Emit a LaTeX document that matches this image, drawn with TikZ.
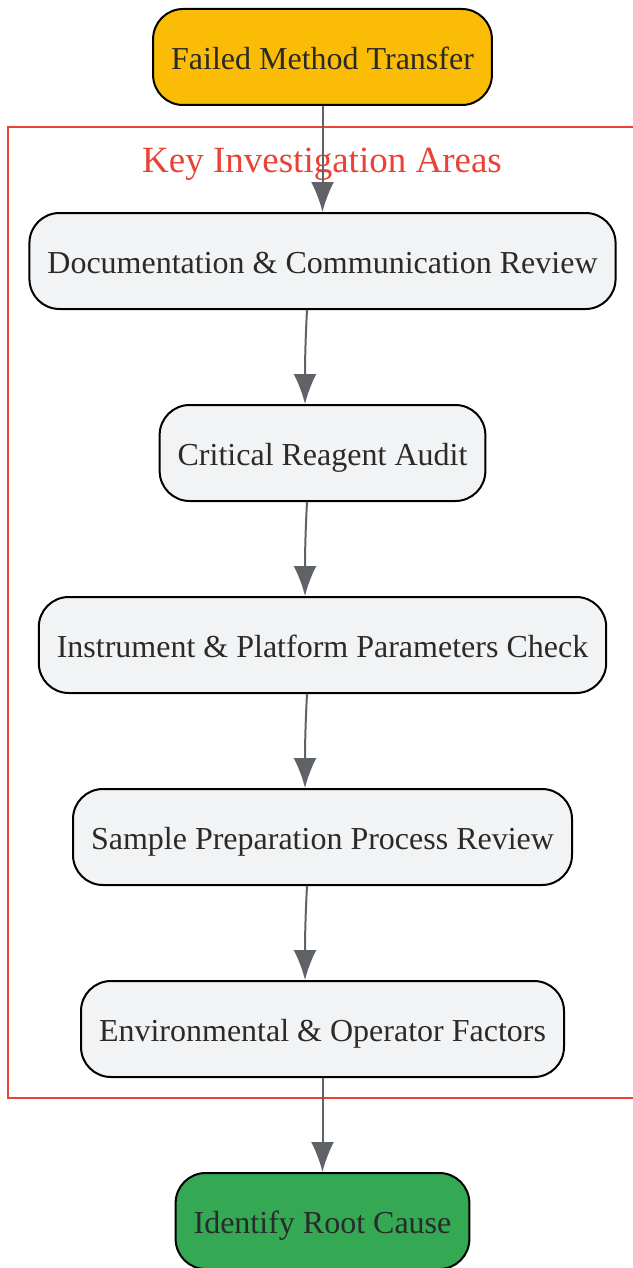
\documentclass[tikz,border=0pt]{standalone}
\usepackage{fontspec}
\setmainfont{Liberation Serif}
\usetikzlibrary{shapes,arrows.meta,positioning}
\definecolor{startcol}{HTML}{FBBC05}
\definecolor{endcol}{HTML}{34A853}
\definecolor{stepcol}{HTML}{F1F3F4}
\definecolor{areacol}{HTML}{EA4335}
\definecolor{linkcol}{HTML}{5F6368}
\definecolor{textcol}{HTML}{2A2A2A}

\begin{document}
\begin{tikzpicture}[x=1pt, y=1pt, node distance=47pt, auto]
        % Define block styles
        \tikzstyle{stepbox} = [rectangle, draw=black, line width=1pt, fill=stepcol, text=textcol, rounded corners=15pt, minimum height=48pt, inner xsep=9pt, text height=13pt, text depth=0.3pt, font=\fontsize{16}{19}\selectfont]
        \tikzstyle{startbox} = [stepbox, fill=startcol]
        \tikzstyle{endbox} = [stepbox, fill=endcol]
        \tikzstyle{line} = [draw=linkcol, line width=1pt, -{Latex[length=15pt, width=11.5pt]}]

        \useasboundingbox (0,0) rectangle (316,-634);

        % Cluster frame
        \draw[areacol, line width=1pt] (4,-63.5) rectangle (330,-549);
        \node[text=areacol, font=\fontsize{18.5}{22}\selectfont] (title) at (161,-82) {Key Investigation Areas};

        % Define nodes
        \node [startbox] (fail) at (161.25,-28.5) {Failed Method Transfer};
        \node [stepbox, below=53pt of fail] (doc) {Documentation \& Communication Review};
        \node [stepbox, below=of doc] (reag) {Critical Reagent Audit};
        \node [stepbox, below=of reag] (inst) {Instrument \& Platform Parameters Check};
        \node [stepbox, below=of inst] (prep) {Sample Preparation Process Review};
        \node [stepbox, below=of prep] (envi) {Environmental \& Operator Factors};
        \node [endbox, below=47pt of envi] (root) {Identify Root Cause};

        % Connect nodes with paths
        \draw[line] (fail) -- (doc);
        \draw[line] ([xshift=-7.75pt]doc.south) to[out=-93, in=90] ([xshift=-8.75pt]reag.north);
        \draw[line] ([xshift=-7.75pt]reag.south) to[out=-93, in=90] ([xshift=-8.75pt]inst.north);
        \draw[line] ([xshift=-7.75pt]inst.south) to[out=-93, in=90] ([xshift=-8.75pt]prep.north);
        \draw[line] ([xshift=-7.75pt]prep.south) to[out=-93, in=90] ([xshift=-8.75pt]envi.north);
        \draw[line] (envi) -- (root);

    \end{tikzpicture}
\end{document}
